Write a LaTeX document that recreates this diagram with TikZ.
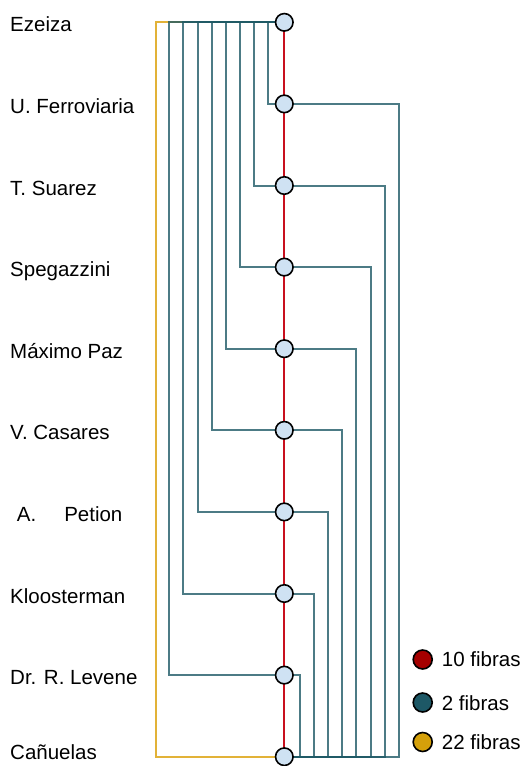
\documentclass[tikz,border=0pt]{standalone}
\usepackage{fontspec}
\setmainfont{Liberation Sans}
\usetikzlibrary{positioning}
\definecolor{redline}{RGB}{200,16,30}
\definecolor{tealline}{RGB}{31,90,102}
\definecolor{goldline}{RGB}{226,178,56}
\definecolor{stfill}{RGB}{207,226,243}
\definecolor{keyred}{RGB}{165,0,0}
\definecolor{keyteal}{RGB}{29,88,102}
\definecolor{keygold}{RGB}{212,160,10}
\tikzstyle{station} = [circle,draw=black,line width=1.6pt,fill=stfill,minimum size=17.5pt,inner sep=0pt]
\tikzstyle{keydot} = [circle,draw=black,line width=1.6pt,minimum size=19pt,inner sep=0pt]
\tikzstyle{stname} = [anchor=base west,inner sep=0pt,font=\fontsize{20.5}{24}\selectfont]
\tikzstyle{fiber2} = [line width=2pt,draw=tealline,draw opacity=0.8]
\tikzstyle{fiber10} = [line width=1.8pt,draw=redline]
\tikzstyle{fiber22} = [line width=2pt,draw=goldline]

\begin{document}
\begin{tikzpicture}[x=1pt,y=-1pt]
	\useasboundingbox (0,0) rectangle (526,766);
	\def \xs {284.3}
	\def \ytop {22.3}
	\def \dy {81.6}
	\def \xl {169.3}
	\def \xr {300}
	\def \dx {14.1}
	\foreach \i in {0,...,9} {
		\coordinate (p\i) at (\xs,\ytop+\i*\dy);
	}
	% 22 fibras
	\coordinate (g0) at (155.7,\ytop);
	\draw [fiber22] (p0) -- (g0) |- (p9);
	% 2 fibras
	\foreach \i in {1,...,8} {
		\coordinate (l\i) at (\xl+8*\dx-\i*\dx,\ytop+\i*\dy);
		\coordinate (r\i) at (\xr+8*\dx-\i*\dx,\ytop+\i*\dy);
		\draw [fiber2] (p0) -| (l\i) -- (p\i);
		\draw [fiber2] (p\i) -- (r\i) |- (p9);
	}
	% 10 fibras
	\draw [fiber10] (p0) -- (p9);
	\foreach \i in {0,...,9} {
		\node (s\i) at (p\i) [station] {};
	}
	\foreach \i/\x/\b/\t in {0/10/9.6/Ezeiza,1/10/9.6/U. Ferroviaria,2/10/9.6/T. Suarez,3/10/9.6/Spegazzini,4/10/9.6/Máximo Paz,5/10/9.6/V. Casares,6/16.7/9.6/A.\hspace{28pt}Petion,7/10/9.6/Kloosterman,8/10/9.6/Dr. R. Levene,9/10/3.0/Cañuelas} {
		\node (n\i) [stname] at (\x,\ytop+\i*\dy+\b) {\t};
	}
	% leyenda
	\node (k1) [keydot,fill=keyred] at (422.7,659.5) {};
	\node (k2) [keydot,fill=keyteal] at (422.7,702.5) {};
	\node (k3) [keydot,fill=keygold] at (422.7,742) {};
	\node (t1) [stname] at (441.7,666.7) {10 fibras};
	\node (t2) [stname] at (441.7,710) {2 fibras};
	\node (t3) [stname] at (441.7,749.5) {22 fibras};
\end{tikzpicture}
\end{document}
